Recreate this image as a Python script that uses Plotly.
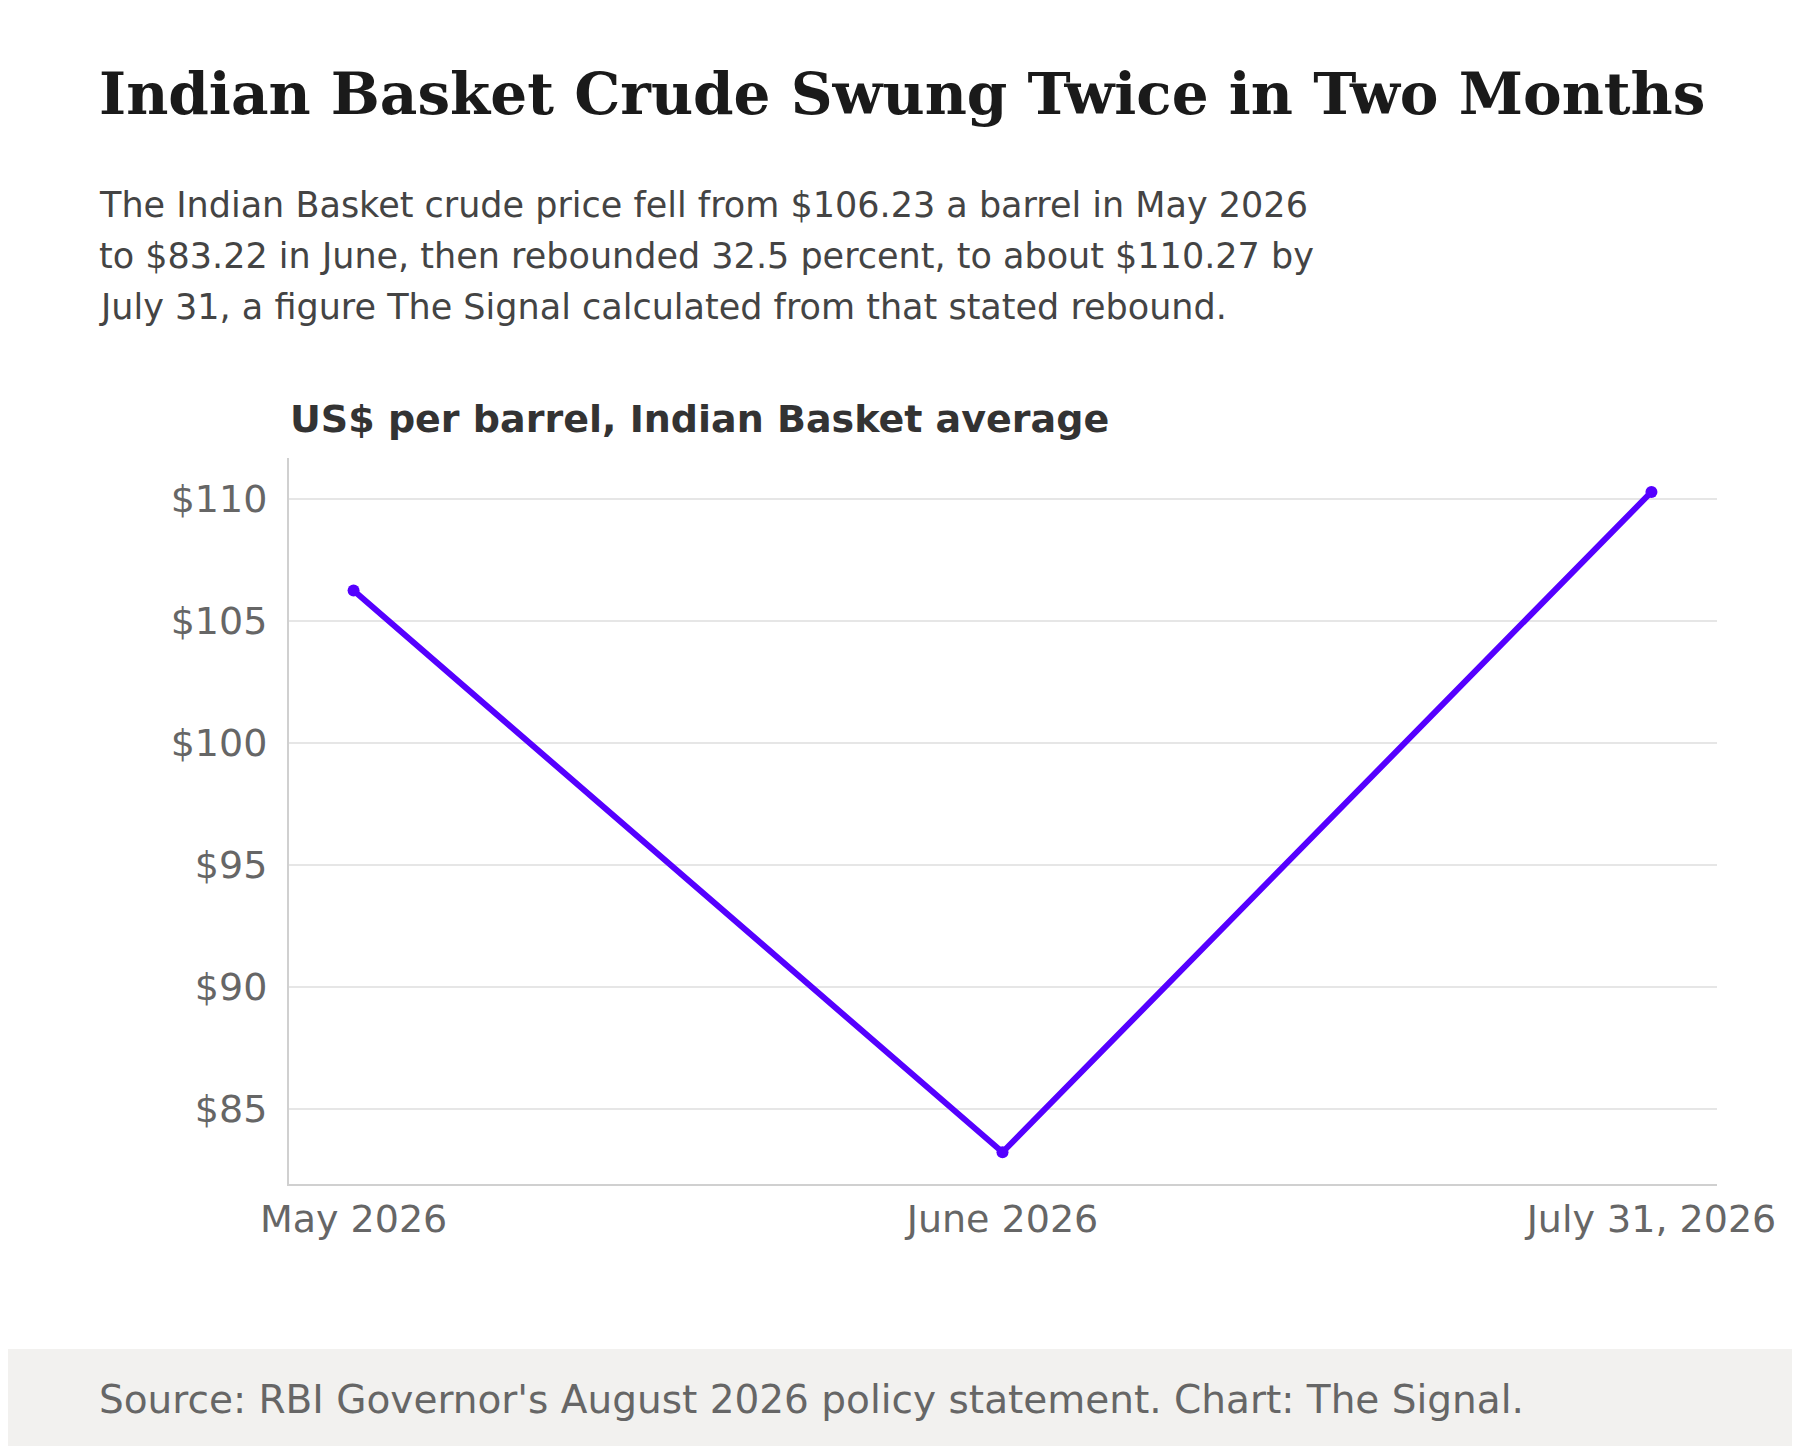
import plotly.graph_objects as go

months = ["May 2026", "June 2026", "July 31, 2026"]
prices = [106.23, 83.22, 110.27]
y_ticks = [85, 90, 95, 100, 105, 110]

W, H = 1800, 1446
L, R, T, B = 281, 91, 450, 270
pw, ph = W - L - R, H - T - B


def px(x):
    return (x - L) / pw


def py(y):
    return 1 - (y - T) / ph


fig = go.Figure(go.Scatter(
    x=list(range(len(months))), y=prices, mode="lines+markers",
    line=dict(color="#5500ff", width=6), marker=dict(size=12, color="#5500ff"),
    hoverinfo="skip"))

fig.update_layout(
    width=W, height=H, margin=dict(l=L, r=R, t=T, b=B),
    paper_bgcolor="white", plot_bgcolor="white", showlegend=False,
    font=dict(family="DejaVu Sans", color="#666666"),
    xaxis=dict(range=[-0.0995, 2.101], tickvals=list(range(len(months))), ticktext=months,
               showgrid=False, showline=True, linecolor="#d0d0d0", linewidth=2,
               tickfont=dict(size=38, color="#666666"), ticks="", zeroline=False),
    yaxis=dict(range=[81.92, 111.66], tickvals=y_ticks, ticktext=[f"${v}" for v in y_ticks],
               showgrid=True, gridcolor="#e6e6e6", gridwidth=2, showline=True,
               linecolor="#d0d0d0", linewidth=2, tickfont=dict(size=38, color="#666666"),
               ticks="", ticklabelstandoff=12, zeroline=False),
)

fig.add_shape(type="rect", xref="paper", yref="paper", x0=px(-20), x1=px(W + 20), y0=py(1341), y1=py(H + 20),
              fillcolor="#f2f1ef", line_width=0, layer="below")

def note(text, x, y, size, color, family="DejaVu Sans"):
    fig.add_annotation(text=text, xref="paper", yref="paper", x=px(x), y=py(y),
                       xanchor="left", yanchor="middle", showarrow=False,
                       font=dict(size=size, color=color, family=family))

note("<b>Indian Basket Crude Swung Twice in Two Months</b>", 89, 86, 58, "#1a1a1a", "DejaVu Serif")
subs = ["The Indian Basket crude price fell from $106.23 a barrel in May 2026",
        "to $83.22 in June, then rebounded 32.5 percent, to about $110.27 by",
        "July 31, a figure The Signal calculated from that stated rebound."]
for i, s in enumerate(subs):
    note(s, 89, 197 + 51 * i, 35, "#444444")
note("<b>US$ per barrel, Indian Basket average</b>", 280, 411, 38, "#333333")
note("Source: RBI Governor's August 2026 policy statement. Chart: The Signal.", 89, 1391, 39, "#666666")

fig.write_html("out.html")
